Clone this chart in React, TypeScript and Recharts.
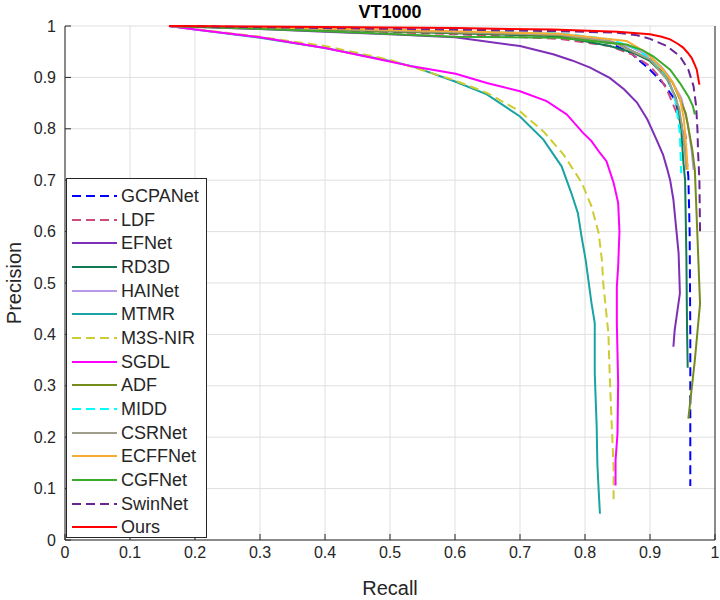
import React from 'react';
import { LineChart, Line, XAxis, YAxis, CartesianGrid } from 'recharts';

// [recall, precision] pairs
const gcpanet: [number, number][] = [
  [0.16, 1], [0.4, 0.994], [0.6, 0.988], [0.76, 0.98], [0.838, 0.967], [0.87, 0.948], [0.9, 0.915],
  [0.922, 0.886], [0.938, 0.857], [0.946, 0.822], [0.951, 0.785], [0.956, 0.745], [0.959, 0.707],
  [0.961, 0.6], [0.962, 0.4], [0.962, 0.2], [0.962, 0.105],
];
const ldf: [number, number][] = [
  [0.16, 1], [0.4, 0.992], [0.6, 0.984], [0.76, 0.975], [0.838, 0.961], [0.872, 0.945], [0.9, 0.922],
  [0.915, 0.9], [0.926, 0.876], [0.941, 0.831], [0.954, 0.792], [0.957, 0.77],
];
const efnet: [number, number][] = [
  [0.16, 1], [0.3, 0.994], [0.4, 0.989], [0.5, 0.984], [0.6, 0.978], [0.7, 0.961], [0.751, 0.945],
  [0.78, 0.933], [0.808, 0.919], [0.838, 0.899], [0.86, 0.877], [0.88, 0.851], [0.896, 0.818],
  [0.91, 0.779], [0.92, 0.75], [0.926, 0.724], [0.931, 0.7], [0.936, 0.662], [0.94, 0.61],
  [0.944, 0.558], [0.946, 0.48], [0.938, 0.409], [0.936, 0.376],
];
const rd3d: [number, number][] = [
  [0.16, 1], [0.4, 0.993], [0.6, 0.986], [0.76, 0.98], [0.838, 0.961], [0.872, 0.949], [0.9, 0.932],
  [0.925, 0.9], [0.94, 0.86], [0.948, 0.8], [0.951, 0.74], [0.954, 0.7], [0.956, 0.55], [0.957, 0.41],
  [0.958, 0.335],
];
const hainet: [number, number][] = [
  [0.16, 1], [0.4, 0.995], [0.6, 0.989], [0.76, 0.985], [0.838, 0.971], [0.872, 0.958], [0.9, 0.941],
  [0.918, 0.92], [0.93, 0.9], [0.948, 0.86], [0.958, 0.81], [0.964, 0.759], [0.967, 0.72],
];
const mtmr: [number, number][] = [
  [0.16, 1], [0.2, 0.993], [0.3, 0.977], [0.4, 0.957], [0.5, 0.932], [0.536, 0.921], [0.6, 0.892],
  [0.649, 0.867], [0.7, 0.824], [0.736, 0.779], [0.764, 0.727], [0.779, 0.675], [0.789, 0.636],
  [0.795, 0.588], [0.801, 0.545], [0.81, 0.461], [0.815, 0.422], [0.815, 0.324], [0.818, 0.22],
  [0.819, 0.149], [0.821, 0.097], [0.823, 0.051],
];
const m3snir: [number, number][] = [
  [0.16, 1], [0.2, 0.994], [0.3, 0.979], [0.4, 0.961], [0.5, 0.934], [0.6, 0.894], [0.649, 0.87],
  [0.7, 0.834], [0.736, 0.795], [0.767, 0.75], [0.795, 0.695], [0.81, 0.649], [0.821, 0.597],
  [0.826, 0.545], [0.828, 0.5], [0.836, 0.402], [0.838, 0.324], [0.841, 0.227], [0.844, 0.142], [0.844, 0.077],
];
const sgdl: [number, number][] = [
  [0.16, 1], [0.2, 0.993], [0.3, 0.978], [0.4, 0.957], [0.485, 0.935], [0.536, 0.921], [0.601, 0.907],
  [0.649, 0.889], [0.7, 0.873], [0.741, 0.854], [0.772, 0.828], [0.797, 0.792], [0.81, 0.776],
  [0.823, 0.753], [0.833, 0.737], [0.844, 0.695], [0.851, 0.656], [0.853, 0.6], [0.851, 0.532],
  [0.849, 0.493], [0.849, 0.422], [0.851, 0.305], [0.85, 0.207], [0.847, 0.155], [0.847, 0.106],
];
const adf: [number, number][] = [
  [0.16, 1], [0.4, 0.993], [0.6, 0.987], [0.76, 0.982], [0.85, 0.965], [0.9, 0.935], [0.935, 0.89],
  [0.955, 0.83], [0.965, 0.76], [0.969, 0.72], [0.977, 0.46], [0.969, 0.35], [0.959, 0.236],
];
const midd: [number, number][] = [
  [0.16, 1], [0.4, 0.995], [0.6, 0.99], [0.76, 0.986], [0.84, 0.974], [0.88, 0.955], [0.91, 0.925],
  [0.93, 0.89], [0.94, 0.85], [0.946, 0.79], [0.948, 0.714],
];
const csrnet: [number, number][] = [
  [0.16, 1], [0.4, 0.994], [0.6, 0.988], [0.76, 0.983], [0.84, 0.97], [0.9, 0.935], [0.93, 0.89],
  [0.945, 0.84], [0.952, 0.78], [0.956, 0.72],
];
const ecffnet: [number, number][] = [
  [0.16, 1], [0.4, 0.995], [0.6, 0.99], [0.76, 0.985], [0.864, 0.971], [0.895, 0.948], [0.92, 0.915],
  [0.935, 0.89], [0.946, 0.86], [0.952, 0.82], [0.956, 0.76], [0.958, 0.72],
];
const cgfnet: [number, number][] = [
  [0.16, 1], [0.4, 0.99], [0.6, 0.979], [0.76, 0.977], [0.864, 0.964], [0.888, 0.953], [0.905, 0.941],
  [0.931, 0.915], [0.946, 0.889], [0.959, 0.863], [0.966, 0.844], [0.969, 0.828],
];
const swinnet: [number, number][] = [
  [0.16, 1], [0.4, 0.996], [0.6, 0.993], [0.76, 0.99], [0.85, 0.987], [0.88, 0.982], [0.9, 0.975],
  [0.926, 0.961], [0.946, 0.941], [0.959, 0.915], [0.967, 0.883], [0.971, 0.844], [0.973, 0.798],
  [0.974, 0.753], [0.976, 0.7], [0.977, 0.597],
];
const ours: [number, number][] = [
  [0.16, 1], [0.4, 0.998], [0.6, 0.996], [0.75, 0.993], [0.85, 0.989], [0.9, 0.984], [0.918, 0.979],
  [0.931, 0.974], [0.942, 0.966], [0.951, 0.958], [0.958, 0.948], [0.964, 0.938], [0.968, 0.927],
  [0.972, 0.915], [0.974, 0.9], [0.976, 0.886],
];

const TICKS = [0, 0.1, 0.2, 0.3, 0.4, 0.5, 0.6, 0.7, 0.8, 0.9, 1];

const series = [
  { name: 'GCPANet', color: '#0000ff', dashed: true, pts: gcpanet },
  { name: 'LDF', color: '#cc4c7d', dashed: true, pts: ldf },
  { name: 'EFNet', color: '#7e2fb8', dashed: false, pts: efnet },
  { name: 'RD3D', color: '#117a52', dashed: false, pts: rd3d },
  { name: 'HAINet', color: '#b89ae8', dashed: false, pts: hainet },
  { name: 'MTMR', color: '#1aa3a3', dashed: false, pts: mtmr },
  { name: 'M3S-NIR', color: '#cccc33', dashed: true, pts: m3snir },
  { name: 'SGDL', color: '#ff00ff', dashed: false, pts: sgdl },
  { name: 'ADF', color: '#738c1c', dashed: false, pts: adf },
  { name: 'MIDD', color: '#00ffff', dashed: true, pts: midd },
  { name: 'CSRNet', color: '#9e9e8a', dashed: false, pts: csrnet },
  { name: 'ECFFNet', color: '#f7ad33', dashed: false, pts: ecffnet },
  { name: 'CGFNet', color: '#3aab2a', dashed: false, pts: cgfnet },
  { name: 'SwinNet', color: '#6b2593', dashed: true, pts: swinnet },
  { name: 'Ours', color: '#ff0000', dashed: false, pts: ours },
];

const INK = '#262626';
const FONT = '"Liberation Sans", Arial, sans-serif';

const fmt = (v: number) => String(v);
const noLabel = () => null;

const Legend = () => (
  <div
    style={{
      position: 'absolute',
      left: 66,
      top: 178,
      width: 141,
      height: 360,
      border: `1px solid ${INK}`,
      background: '#fff',
      paddingTop: 5,
      boxSizing: 'border-box',
    }}
  >
    {series.map((s) => (
      <div key={s.name} style={{ display: 'flex', alignItems: 'center', height: 23.7 }}>
        <svg width={50} height={10} style={{ marginLeft: 4 }}>
          <line
            x1={1}
            y1={5}
            x2={46}
            y2={5}
            stroke={s.color}
            strokeWidth={2}
            strokeDasharray={s.dashed ? '9 5' : undefined}
          />
        </svg>
        <span style={{ fontSize: 18, color: INK, lineHeight: '20px' }}>{s.name}</span>
      </div>
    ))}
  </div>
);

export default function App() {
  return (
    <div style={{ position: 'absolute', left: 0, top: 0, width: 720, height: 600, background: '#fff', fontFamily: FONT }}>
      <div
        style={{
          position: 'absolute',
          left: 65,
          width: 650,
          top: 2,
          textAlign: 'center',
          fontWeight: 'bold',
          fontSize: 18,
          color: '#000',
        }}
      >
        VT1000
      </div>
      <LineChart width={720} height={600} margin={{ top: 26, right: 0, bottom: 0, left: 0 }}>
        <CartesianGrid stroke="#dfdfdf" />
        <XAxis
          type="number"
          dataKey="r"
          domain={[0, 1]}
          ticks={TICKS}
          interval={0}
          tickFormatter={fmt}
          height={60}
          stroke={INK}
          tickSize={-6}
          tickMargin={13}
          tick={{ fill: INK, fontSize: 16 }}
          label={{ value: 'Recall', position: 'insideBottom', offset: 5, fontSize: 20, fill: INK }}
        />
        <XAxis
          xAxisId="top"
          orientation="top"
          type="number"
          dataKey="r"
          domain={[0, 1]}
          ticks={TICKS}
          interval={0}
          height={0}
          stroke={INK}
          tickSize={-6}
          tick={noLabel}
        />
        <YAxis
          type="number"
          domain={[0, 1]}
          ticks={TICKS}
          interval={0}
          tickFormatter={fmt}
          width={65}
          stroke={INK}
          tickSize={-6}
          tickMargin={15}
          tick={{ fill: INK, fontSize: 16 }}
          label={{
            value: 'Precision',
            angle: -90,
            position: 'insideLeft',
            offset: 14,
            fontSize: 20,
            fill: INK,
            style: { textAnchor: 'middle' },
          }}
        />
        <YAxis
          yAxisId="right"
          orientation="right"
          type="number"
          domain={[0, 1]}
          ticks={TICKS}
          interval={0}
          width={5}
          stroke={INK}
          tickSize={-6}
          tick={noLabel}
        />
        {series.map((s) => (
          <Line
            key={s.name}
            data={s.pts.map(([r, p]) => ({ r, p }))}
            dataKey="p"
            type="linear"
            stroke={s.color}
            strokeWidth={2}
            strokeDasharray={s.dashed ? '9 5' : undefined}
            dot={false}
            activeDot={false}
            isAnimationActive={false}
          />
        ))}
      </LineChart>
      <Legend />
    </div>
  );
}
